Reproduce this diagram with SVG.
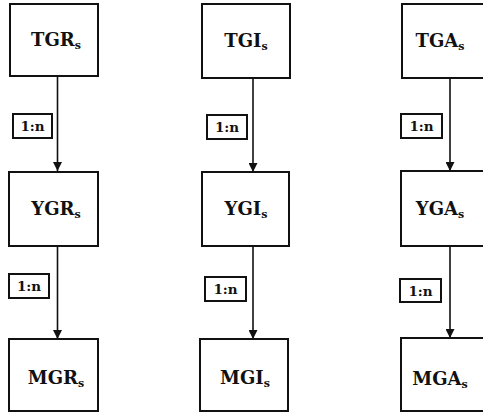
<svg xmlns="http://www.w3.org/2000/svg" width="483" height="413" viewBox="0 0 483 413">
<defs>
<style>
.box{fill:#fff;stroke:#111;stroke-width:2}
.lbl{fill:#fff;stroke:#111;stroke-width:2}
text{font-family:'DejaVu Serif',serif;font-weight:bold;fill:#111;text-anchor:middle}
.t{font-size:18px}
.sub{font-size:11px}
.c{font-size:13.5px}
.edge{stroke:#111;stroke-width:1.6;fill:none}
</style>
<marker id="ah" viewBox="0 0 10 10" refX="10" refY="5" markerWidth="9" markerHeight="9" markerUnits="userSpaceOnUse" orient="auto">
<path d="M0,0 L10,5 L0,10 Z" fill="#111"/>
</marker>
</defs>
<rect width="483" height="413" fill="#fff"/>
<g id="connectors">
<line class="edge" x1="57.5" y1="77" x2="57.5" y2="171" marker-end="url(#ah)"/>
<line class="edge" x1="57.5" y1="246" x2="57.5" y2="339" marker-end="url(#ah)"/>
<line class="edge" x1="253" y1="78" x2="253" y2="172" marker-end="url(#ah)"/>
<line class="edge" x1="253" y1="246" x2="253" y2="339" marker-end="url(#ah)"/>
<line class="edge" x1="450" y1="78" x2="450" y2="171" marker-end="url(#ah)"/>
<line class="edge" x1="450" y1="246" x2="450" y2="338" marker-end="url(#ah)"/>
<g id="lbl1"><rect class="lbl" x="13" y="114" width="39" height="24"/><text class="c" x="32.5" y="131">1:n</text></g>
<g id="lbl2"><rect class="lbl" x="9" y="274" width="40" height="24"/><text class="c" x="29" y="291">1:n</text></g>
<g id="lbl3"><rect class="lbl" x="207" y="115" width="40" height="24"/><text class="c" x="227" y="132">1:n</text></g>
<g id="lbl4"><rect class="lbl" x="205" y="277" width="41" height="24"/><text class="c" x="225.5" y="294">1:n</text></g>
<g id="lbl5"><rect class="lbl" x="401" y="114" width="41" height="24"/><text class="c" x="421.5" y="131">1:n</text></g>
<g id="lbl6"><rect class="lbl" x="400" y="279" width="41" height="23"/><text class="c" x="420.5" y="295.5">1:n</text></g>
</g>
<g id="TGR"><rect class="box" x="10" y="4" width="88" height="72"/><text class="t" x="56" y="46">TGR<tspan class="sub" dy="3">s</tspan></text></g>
<g id="YGR"><rect class="box" x="9" y="172" width="89" height="74"/><text class="t" x="56" y="215">YGR<tspan class="sub" dy="3">s</tspan></text></g>
<g id="MGR"><rect class="box" x="9" y="339" width="89" height="72"/><text class="t" x="56" y="384">MGR<tspan class="sub" dy="3">s</tspan></text></g>
<g id="TGI"><rect class="box" x="202" y="4" width="88" height="74"/><text class="t" x="246" y="47">TGI<tspan class="sub" dy="3">s</tspan></text></g>
<g id="YGI"><rect class="box" x="202" y="172" width="87" height="74"/><text class="t" x="246" y="215">YGI<tspan class="sub" dy="3">s</tspan></text></g>
<g id="MGI"><rect class="box" x="200" y="339" width="88" height="72"/><text class="t" x="245" y="384">MGI<tspan class="sub" dy="3">s</tspan></text></g>
<g id="TGA"><rect class="box" x="402" y="4" width="90" height="74"/><text class="t" x="440" y="47">TGA<tspan class="sub" dy="3">s</tspan></text></g>
<g id="YGA"><rect class="box" x="401" y="171" width="90" height="75"/><text class="t" x="440" y="215">YGA<tspan class="sub" dy="3">s</tspan></text></g>
<g id="MGA"><rect class="box" x="401" y="338" width="90" height="73"/><text class="t" x="440" y="385">MGA<tspan class="sub" dy="3">s</tspan></text></g>
</svg>
